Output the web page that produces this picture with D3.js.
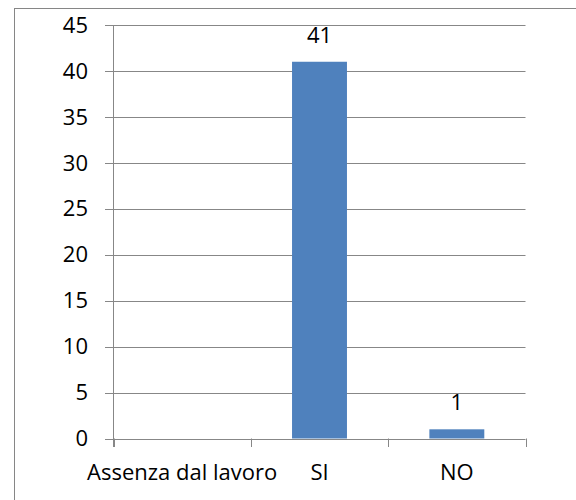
<!DOCTYPE html>
<html><head><meta charset="utf-8">
<script src="https://cdn.jsdelivr.net/npm/d3@7"></script>
<style>html,body{margin:0;padding:0;background:#fff;} svg{display:block;}</style>
</head><body>
<script>
const categories = ["Assenza dal lavoro", "SI", "NO"];
const values = [null, 41, 1];
const yTicks = [0, 5, 10, 15, 20, 25, 30, 35, 40, 45];

const W = 576, H = 500;
const font = "'Open Sans', sans-serif";
const fs = 22;
const svg = d3.select("body").append("svg").attr("width", W).attr("height", H);

// outer border
svg.append("rect").attr("x", 14.5).attr("y", 8.5).attr("width", 600).attr("height", 600)
  .attr("fill", "none").attr("stroke", "#868686").attr("stroke-width", 1);

const x = d3.scaleBand().domain(categories).range([113.5, 525.5]).paddingInner(0.6).paddingOuter(0.3);
const y = d3.scaleLinear().domain([0, 45]).range([438.5, 25]);

// gridlines
svg.append("g").selectAll("line").data(yTicks).join("line")
  .attr("x1", 105).attr("x2", 525.5)
  .attr("y1", d => Math.round(y(d)) + 0.5).attr("y2", d => Math.round(y(d)) + 0.5)
  .attr("stroke", "#878787").attr("stroke-width", 1);

// y axis line
svg.append("line").attr("x1", 113.5).attr("x2", 113.5).attr("y1", y(45)).attr("y2", 447)
  .attr("stroke", "#878787");

// x axis category ticks
const bounds = [113.5, ...categories.map(c => x(c) + x.bandwidth() / 2 + x.step() / 2)];
svg.append("g").selectAll("line").data(bounds).join("line")
  .attr("x1", d => Math.round(d) + 0.5).attr("x2", d => Math.round(d) + 0.5)
  .attr("y1", 438.5).attr("y2", 447).attr("stroke", "#878787");

// y tick labels
svg.append("g").selectAll("text").data(yTicks).join("text")
  .attr("x", 88).attr("y", d => y(d)).attr("dy", "0.35em")
  .attr("text-anchor", "end").attr("font-family", font).attr("font-size", fs).attr("fill", "#000")
  .text(d => d);

// bars
const data = categories.map((c, i) => ({c, v: values[i]})).filter(d => d.v != null);
svg.append("g").selectAll("rect").data(data).join("rect")
  .attr("x", d => x(d.c)).attr("width", x.bandwidth())
  .attr("y", d => y(d.v)).attr("height", d => y(0) - y(d.v))
  .attr("fill", "#4F81BD");

// value labels
svg.append("g").selectAll("text").data(data).join("text")
  .attr("x", d => x(d.c) + x.bandwidth() / 2).attr("y", d => y(d.v) - 19)
  .attr("text-anchor", "middle").attr("font-family", font).attr("font-size", fs).attr("fill", "#000")
  .text(d => d.v);

// category labels
svg.append("g").selectAll("text").data(categories).join("text")
  .attr("x", d => x(d) + x.bandwidth() / 2).attr("y", 480)
  .attr("text-anchor", "middle").attr("font-family", font).attr("font-size", fs).attr("fill", "#000")
  .text(d => d);
</script>
</body></html>
